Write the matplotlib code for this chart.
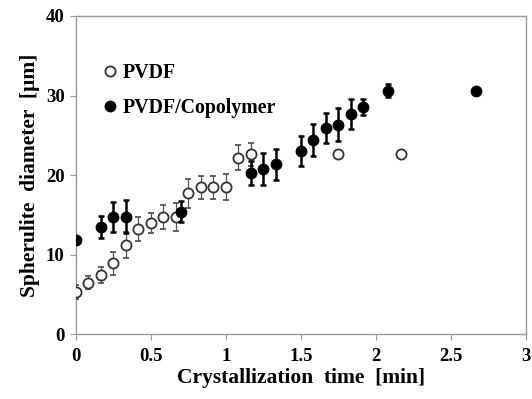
import matplotlib
matplotlib.use("Agg")
import matplotlib.pyplot as plt

pvdf_x = [0, 0.083, 0.167, 0.25, 0.333, 0.417, 0.5, 0.583, 0.667, 0.75, 0.833, 0.917, 1.0, 1.083, 1.167, 1.75, 2.167]
pvdf_y = [5.3, 6.5, 7.45, 8.9, 11.2, 13.2, 14.0, 14.7, 14.7, 17.7, 18.5, 18.5, 18.5, 22.2, 22.65, 22.65, 22.7]
pvdf_err = [0.9, 0.85, 1.0, 1.5, 1.6, 1.5, 1.3, 1.5, 1.75, 1.8, 1.45, 1.45, 1.6, 1.6, 1.45, 0.3, 0.3]

cop_x = [0, 0.167, 0.25, 0.333, 0.70, 1.167, 1.25, 1.333, 1.5, 1.583, 1.667, 1.75, 1.833, 1.917, 2.083, 2.667]
cop_y = [11.85, 13.5, 14.77, 14.77, 15.4, 20.3, 20.73, 21.36, 23.07, 24.4, 25.88, 26.33, 27.68, 28.52, 30.6, 30.6]
cop_err = [0.4, 1.35, 1.9, 2.1, 1.3, 1.5, 2.0, 1.95, 1.9, 2.0, 1.9, 2.1, 1.9, 1.0, 0.8, 0.0]

x_ticks = [0, 0.5, 1, 1.5, 2, 2.5, 3]
x_ticklabels = ["0", "0.5", "1", "1.5", "2", "2.5", "3"]
y_ticks = [0, 10, 20, 30, 40]

plt.rcParams['font.family'] = ['Liberation Serif', 'DejaVu Serif']
plt.rcParams['font.weight'] = 'bold'

fig = plt.figure(figsize=(5.32, 3.99), dpi=100)
ax = fig.add_axes([0.1423, 0.1622, 0.8464, 0.7977])

ax.errorbar(pvdf_x, pvdf_y, yerr=pvdf_err, fmt='o', mfc='white', mec='#333333',
            mew=1.3, ms=7.3, ecolor='#555555', elinewidth=0.9, capsize=2.5, capthick=0.9,
            label='PVDF', zorder=3)
ax.errorbar(cop_x, cop_y, yerr=cop_err, fmt='o', mfc='black', mec='black',
            ms=7.5, ecolor='black', elinewidth=1.8, capsize=2.5, capthick=1.8,
            label='PVDF/Copolymer', zorder=4)

ax.set_xlim(0, 3)
ax.set_ylim(0, 40)
ax.set_xticks(x_ticks)
ax.set_xticklabels(x_ticklabels)
ax.set_yticks(y_ticks)
for s in ax.spines.values():
    s.set_color('#999999')
    s.set_linewidth(1.0)
ax.tick_params(direction='out', length=4, color='#999999', labelsize=13.5)
ax.tick_params(axis='x', pad=6)
ax.tick_params(axis='y', pad=4)
for lbl in ax.get_xticklabels() + ax.get_yticklabels():
    lbl.set_fontweight('bold')

ax.set_xlabel('Crystallization  time  [min]', fontsize=15.5, fontweight='bold', labelpad=2)
ax.set_ylabel('Spherulite  diameter  [µm]', fontsize=15.5, fontweight='bold', labelpad=4)

h, l = ax.get_legend_handles_labels()
h = [hh[0] for hh in h]
ax.legend(h, l, loc='upper left', bbox_to_anchor=(0.015, 0.91), frameon=False,
          handletextpad=0.1, handlelength=1.0, labelspacing=0.8,
          prop={'weight': 'bold', 'size': 14.3})

fig.savefig('out.png', dpi=100)
